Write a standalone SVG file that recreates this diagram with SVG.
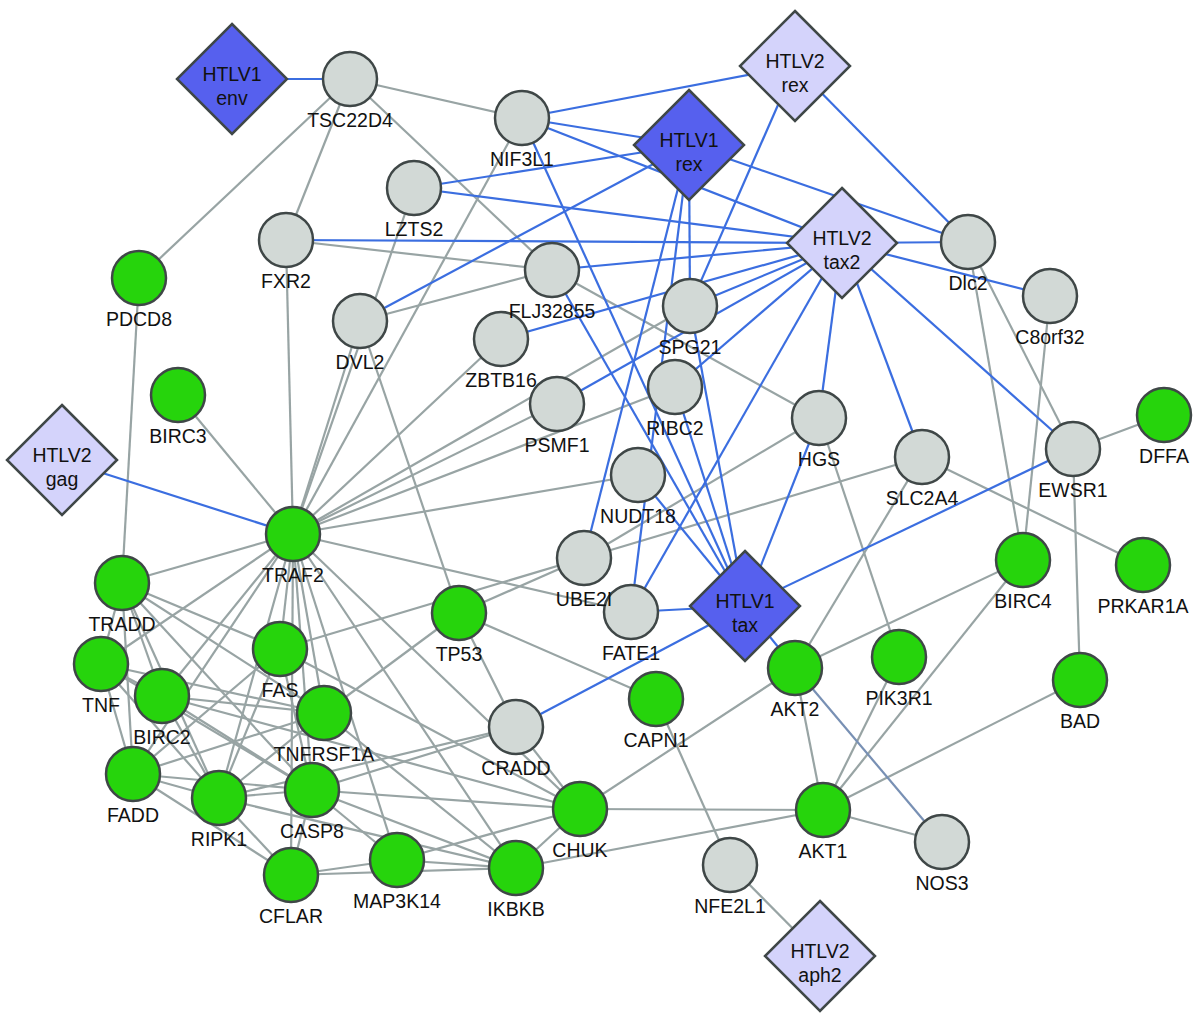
<svg xmlns="http://www.w3.org/2000/svg" xmlns:xlink="http://www.w3.org/1999/xlink" width="1200" height="1020" viewBox="0 0 1200 1020">
<style>
.e line{stroke:#98a4a4;stroke-width:2.2}
.b line{stroke:#3b6ee0;stroke-width:2.2}
.m{stroke:#7890b4;stroke-width:2.2}
.g{fill:#d2d9d6;stroke:#3f4747;stroke-width:2.5}
.n{fill:#26d40c;stroke:#3f4747;stroke-width:2.5}
.d1{fill:#5660ee;stroke:#3f4747;stroke-width:2.5}
.d2{fill:#d4d3fb;stroke:#3f4747;stroke-width:2.5}
text{font-family:"Liberation Sans",Arial,sans-serif;font-size:19.5px;fill:#111;text-anchor:middle}
</style>
<defs>
<path id="dia" d="M0,-55 L55,0 L0,55 L-55,0 Z"/>
</defs>
<rect width="1200" height="1020" fill="#fff"/>
<g id="connectors">
<g class="e">
<line x1="350" y1="79" x2="522" y2="118"/>
<line x1="350" y1="79" x2="552" y2="270"/>
<line x1="350" y1="79" x2="139" y2="278"/>
<line x1="350" y1="79" x2="286" y2="240"/>
<line x1="286" y1="240" x2="552" y2="270"/>
<line x1="286" y1="240" x2="293" y2="534"/>
<line x1="414" y1="188" x2="293" y2="534"/>
<line x1="360" y1="321" x2="293" y2="534"/>
<line x1="360" y1="321" x2="552" y2="270"/>
<line x1="360" y1="321" x2="459" y2="613"/>
<line x1="522" y1="118" x2="293" y2="534"/>
<line x1="552" y1="270" x2="819" y2="418"/>
<line x1="690" y1="306" x2="293" y2="534"/>
<line x1="675" y1="387" x2="293" y2="534"/>
<line x1="557" y1="404" x2="293" y2="534"/>
<line x1="501" y1="339" x2="293" y2="534"/>
<line x1="638" y1="475" x2="293" y2="534"/>
<line x1="631" y1="612" x2="293" y2="534"/>
<line x1="178" y1="395" x2="293" y2="534"/>
<line x1="139" y1="278" x2="122" y2="583"/>
<line x1="584" y1="558" x2="922" y2="457"/>
<line x1="584" y1="558" x2="819" y2="418"/>
<line x1="584" y1="558" x2="280" y2="649"/>
<line x1="584" y1="558" x2="459" y2="613"/>
<line x1="324" y1="713" x2="459" y2="613"/>
<line x1="459" y1="613" x2="516" y2="727"/>
<line x1="459" y1="613" x2="656" y2="699"/>
<line x1="656" y1="699" x2="730" y2="865"/>
<line x1="730" y1="865" x2="820" y2="956"/>
<line x1="516" y1="727" x2="580" y2="809"/>
<line x1="516" y1="727" x2="219" y2="798"/>
<line x1="516" y1="727" x2="312" y2="790"/>
<line x1="580" y1="809" x2="795" y2="668"/>
<line x1="580" y1="809" x2="823" y2="810"/>
<line x1="516" y1="868" x2="823" y2="810"/>
<line x1="516" y1="868" x2="580" y2="809"/>
<line x1="397" y1="860" x2="516" y2="868"/>
<line x1="397" y1="860" x2="580" y2="809"/>
<line x1="397" y1="860" x2="291" y2="875"/>
<line x1="291" y1="875" x2="516" y2="868"/>
<line x1="795" y1="668" x2="823" y2="810"/>
<line x1="795" y1="668" x2="922" y2="457"/>
<line x1="795" y1="668" x2="1023" y2="560"/>
<line x1="823" y1="810" x2="899" y2="657"/>
<line x1="823" y1="810" x2="1023" y2="560"/>
<line x1="823" y1="810" x2="1080" y2="680"/>
<line x1="823" y1="810" x2="942" y2="842"/>
<line x1="899" y1="657" x2="819" y2="418"/>
<line x1="1023" y1="560" x2="968" y2="242"/>
<line x1="1023" y1="560" x2="1050" y2="296"/>
<line x1="1073" y1="449" x2="968" y2="242"/>
<line x1="1073" y1="449" x2="1164" y2="415"/>
<line x1="1073" y1="449" x2="1080" y2="680"/>
<line x1="922" y1="457" x2="1143" y2="565"/>
<line x1="293" y1="534" x2="122" y2="583"/>
<line x1="293" y1="534" x2="101" y2="664"/>
<line x1="293" y1="534" x2="162" y2="696"/>
<line x1="293" y1="534" x2="133" y2="774"/>
<line x1="293" y1="534" x2="219" y2="798"/>
<line x1="293" y1="534" x2="280" y2="649"/>
<line x1="293" y1="534" x2="324" y2="713"/>
<line x1="293" y1="534" x2="312" y2="790"/>
<line x1="293" y1="534" x2="291" y2="875"/>
<line x1="293" y1="534" x2="397" y2="860"/>
<line x1="293" y1="534" x2="516" y2="868"/>
<line x1="293" y1="534" x2="580" y2="809"/>
<line x1="122" y1="583" x2="101" y2="664"/>
<line x1="122" y1="583" x2="162" y2="696"/>
<line x1="122" y1="583" x2="280" y2="649"/>
<line x1="122" y1="583" x2="324" y2="713"/>
<line x1="122" y1="583" x2="219" y2="798"/>
<line x1="122" y1="583" x2="312" y2="790"/>
<line x1="122" y1="583" x2="133" y2="774"/>
<line x1="101" y1="664" x2="162" y2="696"/>
<line x1="101" y1="664" x2="324" y2="713"/>
<line x1="101" y1="664" x2="219" y2="798"/>
<line x1="101" y1="664" x2="133" y2="774"/>
<line x1="101" y1="664" x2="312" y2="790"/>
<line x1="162" y1="696" x2="324" y2="713"/>
<line x1="162" y1="696" x2="219" y2="798"/>
<line x1="162" y1="696" x2="312" y2="790"/>
<line x1="162" y1="696" x2="580" y2="809"/>
<line x1="280" y1="649" x2="219" y2="798"/>
<line x1="280" y1="649" x2="312" y2="790"/>
<line x1="280" y1="649" x2="133" y2="774"/>
<line x1="280" y1="649" x2="580" y2="809"/>
<line x1="324" y1="713" x2="133" y2="774"/>
<line x1="324" y1="713" x2="219" y2="798"/>
<line x1="324" y1="713" x2="516" y2="868"/>
<line x1="133" y1="774" x2="219" y2="798"/>
<line x1="133" y1="774" x2="312" y2="790"/>
<line x1="133" y1="774" x2="291" y2="875"/>
<line x1="219" y1="798" x2="312" y2="790"/>
<line x1="219" y1="798" x2="291" y2="875"/>
<line x1="219" y1="798" x2="516" y2="868"/>
<line x1="312" y1="790" x2="291" y2="875"/>
<line x1="312" y1="790" x2="580" y2="809"/>
<line x1="312" y1="790" x2="516" y2="868"/>
<line x1="312" y1="790" x2="397" y2="860"/>
</g>
<g class="b">
<line x1="232" y1="79" x2="350" y2="79"/>
<line x1="62" y1="460" x2="293" y2="534"/>
<line x1="795" y1="66" x2="522" y2="118"/>
<line x1="795" y1="66" x2="968" y2="242"/>
<line x1="795" y1="66" x2="690" y2="306"/>
<line x1="689" y1="145" x2="522" y2="118"/>
<line x1="689" y1="145" x2="414" y2="188"/>
<line x1="689" y1="145" x2="360" y2="321"/>
<line x1="689" y1="145" x2="690" y2="306"/>
<line x1="689" y1="145" x2="584" y2="558"/>
<line x1="689" y1="145" x2="968" y2="242"/>
<line x1="689" y1="145" x2="631" y2="612"/>
<line x1="522" y1="118" x2="842" y2="243"/>
<line x1="522" y1="118" x2="745" y2="606"/>
<line x1="414" y1="188" x2="842" y2="243"/>
<line x1="286" y1="240" x2="842" y2="243"/>
<line x1="552" y1="270" x2="842" y2="243"/>
<line x1="552" y1="270" x2="745" y2="606"/>
<line x1="501" y1="339" x2="842" y2="243"/>
<line x1="690" y1="306" x2="842" y2="243"/>
<line x1="557" y1="404" x2="842" y2="243"/>
<line x1="675" y1="387" x2="842" y2="243"/>
<line x1="819" y1="418" x2="842" y2="243"/>
<line x1="922" y1="457" x2="842" y2="243"/>
<line x1="1073" y1="449" x2="842" y2="243"/>
<line x1="968" y1="242" x2="842" y2="243"/>
<line x1="1050" y1="296" x2="842" y2="243"/>
<line x1="631" y1="612" x2="842" y2="243"/>
<line x1="690" y1="306" x2="745" y2="606"/>
<line x1="675" y1="387" x2="745" y2="606"/>
<line x1="638" y1="475" x2="745" y2="606"/>
<line x1="819" y1="418" x2="745" y2="606"/>
<line x1="631" y1="612" x2="745" y2="606"/>
<line x1="516" y1="727" x2="745" y2="606"/>
<line x1="1073" y1="449" x2="745" y2="606"/>
<line x1="795" y1="668" x2="745" y2="606"/>
</g>
<line class="m" x1="795" y1="668" x2="942" y2="842"/>
</g>
<g id="HTLV1_env"><use xlink:href="#dia" class="d1" transform="translate(232,79)"/><text x="232" y="81">HTLV1</text><text x="232" y="105">env</text></g>
<g id="HTLV2_rex"><use xlink:href="#dia" class="d2" transform="translate(795,66)"/><text x="795" y="68">HTLV2</text><text x="795" y="92">rex</text></g>
<g id="HTLV1_rex"><use xlink:href="#dia" class="d1" transform="translate(689,145)"/><text x="689" y="147">HTLV1</text><text x="689" y="171">rex</text></g>
<g id="HTLV2_tax2"><use xlink:href="#dia" class="d2" transform="translate(842,243)"/><text x="842" y="245">HTLV2</text><text x="842" y="269">tax2</text></g>
<g id="HTLV2_gag"><use xlink:href="#dia" class="d2" transform="translate(62,460)"/><text x="62" y="462">HTLV2</text><text x="62" y="486">gag</text></g>
<g id="HTLV1_tax"><use xlink:href="#dia" class="d1" transform="translate(745,606)"/><text x="745" y="608">HTLV1</text><text x="745" y="632">tax</text></g>
<g id="HTLV2_aph2"><use xlink:href="#dia" class="d2" transform="translate(820,956)"/><text x="820" y="958">HTLV2</text><text x="820" y="982">aph2</text></g>
<g id="TSC22D4"><circle class="g" cx="350" cy="79" r="27"/><text x="350" y="127">TSC22D4</text></g>
<g id="NIF3L1"><circle class="g" cx="522" cy="118" r="27"/><text x="522" y="166">NIF3L1</text></g>
<g id="LZTS2"><circle class="g" cx="414" cy="188" r="27"/><text x="414" y="236">LZTS2</text></g>
<g id="FXR2"><circle class="g" cx="286" cy="240" r="27"/><text x="286" y="288">FXR2</text></g>
<g id="Dlc2"><circle class="g" cx="968" cy="242" r="27"/><text x="968" y="290">Dlc2</text></g>
<g id="C8orf32"><circle class="g" cx="1050" cy="296" r="27"/><text x="1050" y="344">C8orf32</text></g>
<g id="ZBTB16"><circle class="g" cx="501" cy="339" r="27"/><text x="501" y="387">ZBTB16</text></g>
<g id="FLJ32855"><circle class="g" cx="552" cy="270" r="27"/><text x="552" y="318">FLJ32855</text></g>
<g id="DVL2"><circle class="g" cx="360" cy="321" r="27"/><text x="360" y="369">DVL2</text></g>
<g id="RIBC2"><circle class="g" cx="675" cy="387" r="27"/><text x="675" y="435">RIBC2</text></g>
<g id="SPG21"><circle class="g" cx="690" cy="306" r="27"/><text x="690" y="354">SPG21</text></g>
<g id="PDCD8"><circle class="n" cx="139" cy="278" r="27"/><text x="139" y="326">PDCD8</text></g>
<g id="BIRC3"><circle class="n" cx="178" cy="395" r="27"/><text x="178" y="443">BIRC3</text></g>
<g id="PSMF1"><circle class="g" cx="557" cy="404" r="27"/><text x="557" y="452">PSMF1</text></g>
<g id="HGS"><circle class="g" cx="819" cy="418" r="27"/><text x="819" y="466">HGS</text></g>
<g id="DFFA"><circle class="n" cx="1164" cy="415" r="27"/><text x="1164" y="463">DFFA</text></g>
<g id="NUDT18"><circle class="g" cx="638" cy="475" r="27"/><text x="638" y="523">NUDT18</text></g>
<g id="SLC2A4"><circle class="g" cx="922" cy="457" r="27"/><text x="922" y="505">SLC2A4</text></g>
<g id="EWSR1"><circle class="g" cx="1073" cy="449" r="27"/><text x="1073" y="497">EWSR1</text></g>
<g id="TRAF2"><circle class="n" cx="293" cy="534" r="27"/><text x="293" y="582">TRAF2</text></g>
<g id="FATE1"><circle class="g" cx="631" cy="612" r="27"/><text x="631" y="660">FATE1</text></g>
<g id="UBE2I"><circle class="g" cx="584" cy="558" r="27"/><text x="584" y="606">UBE2I</text></g>
<g id="TRADD"><circle class="n" cx="122" cy="583" r="27"/><text x="122" y="631">TRADD</text></g>
<g id="TNF"><circle class="n" cx="101" cy="664" r="27"/><text x="101" y="712">TNF</text></g>
<g id="BIRC4"><circle class="n" cx="1023" cy="560" r="27"/><text x="1023" y="608">BIRC4</text></g>
<g id="PRKAR1A"><circle class="n" cx="1143" cy="565" r="27"/><text x="1143" y="613">PRKAR1A</text></g>
<g id="TP53"><circle class="n" cx="459" cy="613" r="27"/><text x="459" y="661">TP53</text></g>
<g id="CASP8"><circle class="n" cx="312" cy="790" r="27"/><text x="312" y="838">CASP8</text></g>
<g id="TNFRSF1A"><circle class="n" cx="324" cy="713" r="27"/><text x="324" y="761">TNFRSF1A</text></g>
<g id="FAS"><circle class="n" cx="280" cy="649" r="27"/><text x="280" y="697">FAS</text></g>
<g id="BIRC2"><circle class="n" cx="162" cy="696" r="27"/><text x="162" y="744">BIRC2</text></g>
<g id="CAPN1"><circle class="n" cx="656" cy="699" r="27"/><text x="656" y="747">CAPN1</text></g>
<g id="AKT2"><circle class="n" cx="795" cy="668" r="27"/><text x="795" y="716">AKT2</text></g>
<g id="PIK3R1"><circle class="n" cx="899" cy="657" r="27"/><text x="899" y="705">PIK3R1</text></g>
<g id="BAD"><circle class="n" cx="1080" cy="680" r="27"/><text x="1080" y="728">BAD</text></g>
<g id="CRADD"><circle class="g" cx="516" cy="727" r="27"/><text x="516" y="775">CRADD</text></g>
<g id="FADD"><circle class="n" cx="133" cy="774" r="27"/><text x="133" y="822">FADD</text></g>
<g id="RIPK1"><circle class="n" cx="219" cy="798" r="27"/><text x="219" y="846">RIPK1</text></g>
<g id="CHUK"><circle class="n" cx="580" cy="809" r="27"/><text x="580" y="857">CHUK</text></g>
<g id="AKT1"><circle class="n" cx="823" cy="810" r="27"/><text x="823" y="858">AKT1</text></g>
<g id="NOS3"><circle class="g" cx="942" cy="842" r="27"/><text x="942" y="890">NOS3</text></g>
<g id="CFLAR"><circle class="n" cx="291" cy="875" r="27"/><text x="291" y="923">CFLAR</text></g>
<g id="MAP3K14"><circle class="n" cx="397" cy="860" r="27"/><text x="397" y="908">MAP3K14</text></g>
<g id="IKBKB"><circle class="n" cx="516" cy="868" r="27"/><text x="516" y="916">IKBKB</text></g>
<g id="NFE2L1"><circle class="g" cx="730" cy="865" r="27"/><text x="730" y="913">NFE2L1</text></g>
</svg>
